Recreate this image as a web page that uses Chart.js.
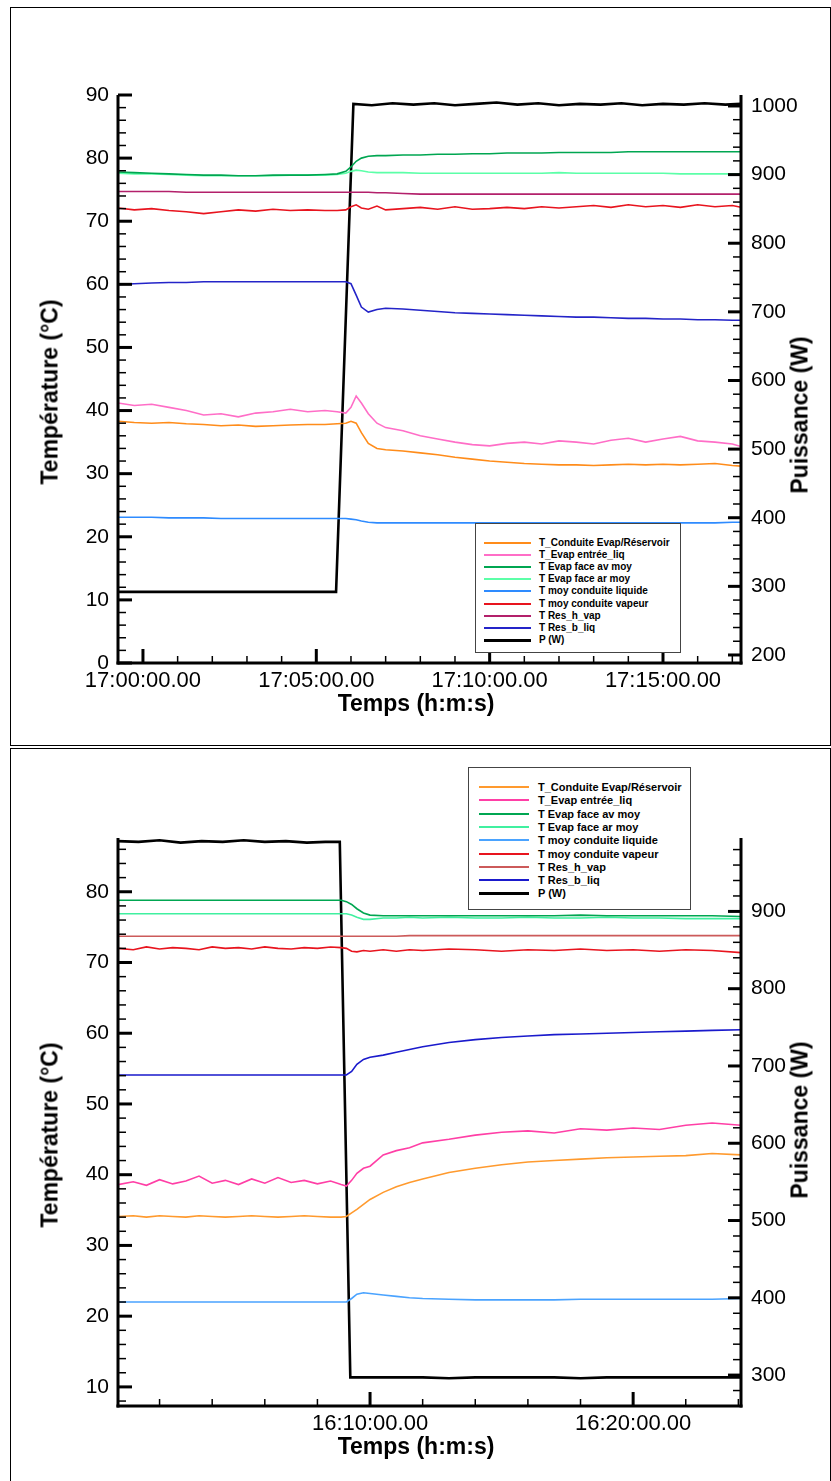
<!DOCTYPE html>
<html lang="fr">
<head>
<meta charset="utf-8" />
<title>Température et puissance</title>
<script src="https://cdn.jsdelivr.net/npm/chart.js@4.4.1/dist/chart.umd.min.js"></script>
<style>
  body { margin: 0; background: #fff; }
  #page { position: relative; width: 831px; height: 1481px; overflow: hidden; font-family: "Liberation Sans", Arial, sans-serif; }
  .panel { position: absolute; border: 1px solid #000; box-sizing: border-box; }
  canvas { position: absolute; left: 0; }
  .title { position: absolute; font: bold 23px "Liberation Sans", Arial, sans-serif; white-space: nowrap; transform: translate(-50%, -50%); }
  .rot { transform: translate(-50%, -50%) rotate(-90deg); }
  .legend { position: absolute; border: 1px solid #444; background: #fff; box-sizing: border-box; }
  .legend .row { position: absolute; left: 0; height: 12px; font: bold 10px "Liberation Sans", Arial, sans-serif; line-height: 12px; white-space: nowrap; }
  .legend .swatch { position: absolute; top: 5px; height: 2px; }
  .legend .lab { position: absolute; top: 0; }
</style>
</head>
<body>
<div id="page">
  <div class="panel" style="left:10px; top:7px; width:821px; height:739px;"></div>
  <div class="panel" style="left:10px; top:748px; width:821px; height:740px;"></div>

  <canvas id="chart1" width="831" height="745" style="top:0px;"></canvas>
  <canvas id="chart2" width="831" height="733" style="top:748px;"></canvas>

  <div class="title rot" style="left:50px; top:392px;">Température (°C)</div>
  <div class="title rot" style="left:800px; top:415px;">Puissance (W)</div>
  <div class="title" style="left:416px; top:703px;">Temps (h:m:s)</div>

  <div class="title rot" style="left:50px; top:1135px;">Température (°C)</div>
  <div class="title rot" style="left:800px; top:1120px;">Puissance (W)</div>
  <div class="title" style="left:416px; top:1446px;">Temps (h:m:s)</div>

  <div class="legend" id="legend1" style="left:475px; top:523px; width:206px; height:130px;"></div>
  <div class="legend" id="legend2" style="left:468px; top:767px; width:223px; height:143px;"></div>
</div>

<script>
// series names (same in both charts)
var seriesNames = ["T_Conduite Evap/Réservoir", "T_Evap entrée_liq", "T Evap face av moy", "T Evap face ar moy",
                   "T moy conduite liquide", "T moy conduite vapeur", "T Res_h_vap", "T Res_b_liq", "P (W)"];

// ---------- chart 1 : step up, minutes after 17:00 ----------
var t1 = [-0.72, -0.25, 0.25, 0.75, 1.25, 1.75, 2.25, 2.75, 3.25, 3.75, 4.25, 4.75, 5.25, 5.6, 5.85, 6.0, 6.15, 6.3, 6.5, 6.75, 7.0,
          7.5, 8.0, 8.5, 9.0, 9.5, 10.0, 10.5, 11.0, 11.5, 12.0, 12.5, 13.0, 13.5, 14.0, 14.5, 15.0, 15.5, 16.0, 16.5, 17.0, 17.25];
var condEvap1 = [38.3, 38.1, 38.0, 38.1, 37.9, 37.8, 37.6, 37.7, 37.5, 37.6, 37.7, 37.8, 37.8, 37.9, 38.0, 38.3, 38.0, 36.5, 34.8, 34.0, 33.8,
                 33.6, 33.3, 33.0, 32.6, 32.3, 32.0, 31.8, 31.6, 31.5, 31.4, 31.4, 31.3, 31.4, 31.5, 31.4, 31.5, 31.4, 31.5, 31.6, 31.3, 31.2];
var entreeLiq1 = [41.2, 40.8, 41.0, 40.5, 40.0, 39.3, 39.5, 39.0, 39.6, 39.8, 40.2, 39.8, 40.0, 39.8, 39.6, 40.5, 42.3, 41.2, 39.5, 38.0, 37.3,
                  36.8, 36.0, 35.5, 35.0, 34.6, 34.4, 34.8, 35.0, 34.7, 35.2, 35.0, 34.7, 35.3, 35.6, 35.0, 35.5, 35.9, 35.2, 35.0, 34.7, 34.3];
var faceAv1 = [77.8, 77.7, 77.6, 77.5, 77.4, 77.3, 77.3, 77.2, 77.2, 77.3, 77.3, 77.3, 77.4, 77.5, 77.9, 78.6, 79.5, 80.0, 80.3, 80.4, 80.4,
               80.5, 80.5, 80.6, 80.6, 80.7, 80.7, 80.8, 80.8, 80.8, 80.9, 80.9, 80.9, 80.9, 81.0, 81.0, 81.0, 81.0, 81.0, 81.0, 81.0, 81.0];
var faceAr1 = [77.6, 77.5, 77.5, 77.4, 77.3, 77.2, 77.2, 77.2, 77.2, 77.2, 77.3, 77.3, 77.3, 77.4, 77.6, 77.9, 78.1, 78.0, 77.8, 77.7, 77.7,
               77.7, 77.6, 77.6, 77.6, 77.6, 77.6, 77.6, 77.6, 77.6, 77.7, 77.6, 77.6, 77.6, 77.6, 77.6, 77.6, 77.5, 77.5, 77.5, 77.5, 77.5];
var condLiq1 = [23.1, 23.1, 23.1, 23.0, 23.0, 23.0, 22.9, 22.9, 22.9, 22.9, 22.9, 22.9, 22.9, 22.9, 22.9, 22.8, 22.7, 22.5, 22.3, 22.2, 22.2,
                22.2, 22.2, 22.2, 22.2, 22.2, 22.2, 22.2, 22.2, 22.2, 22.2, 22.2, 22.2, 22.2, 22.2, 22.2, 22.2, 22.2, 22.2, 22.2, 22.3, 22.3];
var condVap1 = [72.1, 71.8, 72.0, 71.7, 71.5, 71.2, 71.5, 71.8, 71.6, 71.9, 71.7, 71.8, 71.7, 71.7, 71.8, 72.3, 72.6, 72.1, 71.9, 72.4, 71.8,
                72.0, 72.2, 71.9, 72.3, 71.9, 72.0, 72.2, 72.0, 72.3, 72.1, 72.3, 72.5, 72.2, 72.6, 72.3, 72.5, 72.2, 72.6, 72.3, 72.5, 72.2];
var resHVap1 = [74.7, 74.7, 74.7, 74.7, 74.6, 74.6, 74.6, 74.6, 74.6, 74.6, 74.6, 74.6, 74.6, 74.6, 74.6, 74.6, 74.6, 74.6, 74.6, 74.5, 74.5,
                74.4, 74.3, 74.3, 74.3, 74.3, 74.3, 74.3, 74.3, 74.3, 74.3, 74.3, 74.3, 74.3, 74.3, 74.3, 74.3, 74.3, 74.3, 74.3, 74.3, 74.3];
var resBLiq1 = [60.0, 60.1, 60.2, 60.3, 60.3, 60.4, 60.4, 60.4, 60.4, 60.4, 60.4, 60.4, 60.4, 60.4, 60.4, 60.1, 58.3, 56.4, 55.6, 56.0, 56.2,
                56.1, 55.9, 55.7, 55.5, 55.4, 55.3, 55.2, 55.1, 55.0, 54.9, 54.8, 54.8, 54.7, 54.6, 54.6, 54.5, 54.5, 54.4, 54.4, 54.3, 54.3];
var pTime1 = [-0.72, 0.5, 1.5, 2.5, 3.5, 4.5, 5.57, 6.07, 6.6, 7.2, 7.8, 8.4, 9.0, 9.6, 10.2, 10.8, 11.4, 12.0, 12.6, 13.2, 13.8,
              14.4, 15.0, 15.6, 16.2, 16.8, 17.25];
var power1 = [292, 292, 292, 292, 292, 292, 292, 1003, 1001, 1004, 1002, 1004, 1001, 1003, 1005, 1002, 1004, 1001, 1003, 1002, 1004,
              1001, 1003, 1002, 1004, 1002, 1003];
var xTicks1 = [0, 5, 10, 15];
var tempTicks1 = [0, 10, 20, 30, 40, 50, 60, 70, 80, 90];
var powerTicks1 = [200, 300, 400, 500, 600, 700, 800, 900, 1000];

// ---------- chart 2 : step down, minutes after 16:00 ----------
var t2 = [0.42, 1.0, 1.5, 2.0, 2.5, 3.0, 3.5, 4.0, 4.5, 5.0, 5.5, 6.0, 6.5, 7.0, 7.5, 8.0, 8.5, 8.9, 9.1, 9.3, 9.5, 9.75, 10.0,
          10.5, 11.0, 11.5, 12.0, 13.0, 14.0, 15.0, 16.0, 17.0, 18.0, 19.0, 20.0, 21.0, 22.0, 23.0, 24.1];
var condEvap2 = [34.1, 34.2, 34.0, 34.2, 34.1, 34.0, 34.2, 34.1, 34.0, 34.1, 34.2, 34.1, 34.0, 34.1, 34.2, 34.1, 34.0, 34.0, 34.1, 34.6, 35.1, 35.8, 36.5,
                 37.5, 38.3, 38.9, 39.4, 40.3, 40.9, 41.4, 41.8, 42.0, 42.2, 42.4, 42.5, 42.6, 42.7, 43.0, 42.8];
var entreeLiq2 = [38.6, 39.0, 38.5, 39.3, 38.7, 39.1, 39.8, 38.8, 39.2, 38.6, 39.4, 38.8, 39.6, 38.9, 39.2, 38.7, 39.1, 38.6, 38.4, 39.2, 40.2, 40.9, 41.2,
                  42.8, 43.4, 43.8, 44.5, 45.0, 45.6, 46.0, 46.2, 45.9, 46.5, 46.3, 46.6, 46.4, 47.0, 47.3, 47.0];
var faceAv2 = [78.8, 78.8, 78.8, 78.8, 78.8, 78.8, 78.8, 78.8, 78.8, 78.8, 78.8, 78.8, 78.8, 78.8, 78.8, 78.8, 78.8, 78.8, 78.6, 78.2, 77.6, 77.0, 76.7,
               76.6, 76.6, 76.6, 76.6, 76.6, 76.6, 76.6, 76.6, 76.6, 76.7, 76.6, 76.6, 76.6, 76.6, 76.6, 76.5];
var faceAr2 = [76.9, 76.9, 76.9, 76.9, 76.9, 76.9, 76.9, 76.9, 76.9, 76.9, 76.9, 76.9, 76.9, 76.9, 76.9, 76.9, 76.9, 76.9, 76.9, 76.7, 76.4, 76.1, 76.1,
               76.3, 76.3, 76.4, 76.3, 76.4, 76.3, 76.3, 76.4, 76.3, 76.3, 76.4, 76.3, 76.3, 76.2, 76.2, 76.2];
var condLiq2 = [22.0, 22.0, 22.0, 22.0, 22.0, 22.0, 22.0, 22.0, 22.0, 22.0, 22.0, 22.0, 22.0, 22.0, 22.0, 22.0, 22.0, 22.0, 22.0, 22.5, 23.1, 23.3, 23.2,
                23.0, 22.8, 22.6, 22.5, 22.4, 22.3, 22.3, 22.3, 22.3, 22.4, 22.4, 22.4, 22.4, 22.4, 22.4, 22.5];
var condVap2 = [72.0, 71.8, 72.2, 71.9, 72.1, 72.0, 71.8, 72.2, 72.0, 72.1, 71.9, 72.2, 72.0, 71.9, 72.1, 72.0, 72.2, 72.1, 72.0, 71.6, 71.5, 71.7, 71.6,
                71.8, 71.6, 71.8, 71.7, 71.9, 71.8, 71.6, 71.8, 71.7, 71.9, 71.7, 71.8, 71.6, 71.8, 71.7, 71.4];
var resHVap2 = [73.7, 73.7, 73.7, 73.7, 73.7, 73.7, 73.7, 73.7, 73.7, 73.7, 73.7, 73.7, 73.7, 73.7, 73.7, 73.7, 73.7, 73.7, 73.7, 73.7, 73.7, 73.7, 73.7,
                73.7, 73.7, 73.8, 73.8, 73.8, 73.8, 73.8, 73.8, 73.8, 73.8, 73.8, 73.8, 73.8, 73.8, 73.8, 73.8];
var resBLiq2 = [54.1, 54.1, 54.1, 54.1, 54.1, 54.1, 54.1, 54.1, 54.1, 54.1, 54.1, 54.1, 54.1, 54.1, 54.1, 54.1, 54.1, 54.1, 54.1, 54.6, 55.6, 56.3, 56.6,
                56.9, 57.3, 57.7, 58.1, 58.7, 59.1, 59.4, 59.6, 59.8, 59.9, 60.0, 60.1, 60.2, 60.3, 60.4, 60.5];
var pTime2 = [0.42, 1.2, 2.0, 2.8, 3.6, 4.4, 5.2, 6.0, 6.8, 7.6, 8.3, 8.85, 9.25, 10, 11, 12, 13, 14, 15, 16, 17, 18, 19, 20, 21, 22, 23, 24.1];
var power2 = [991, 990, 992, 989, 991, 990, 992, 990, 991, 989, 990, 990, 297, 297, 297, 297, 296, 297, 297, 297, 297, 296, 297, 297, 297, 297, 297, 297];
var xTicks2 = [10, 20];
var tempTicks2 = [10, 20, 30, 40, 50, 60, 70, 80];
var powerTicks2 = [300, 400, 500, 600, 700, 800, 900];

var colors1 = ["#ff8c1a", "#ff6ec7", "#00a651", "#5cffa8", "#2e8bff", "#e8141e", "#b3206b", "#2424c8", "#000000"];
var colors2 = ["#ff9a2e", "#ff3fa6", "#00a651", "#40f0a0", "#4aa3ff", "#e8141e", "#cc5a5a", "#1a1acc", "#000000"];

function pts(xs, ys) {
  return ys.map(function (y, i) { return {x: xs[i], y: y}; });
}
function pad2(n) { return (n < 10 ? "0" : "") + n; }
function clock(baseHour, minutes) {
  var s = Math.round(minutes * 60) + baseHour * 3600;
  var h = Math.floor(s / 3600), m = Math.floor((s % 3600) / 60), sec = s % 60;
  return h + ":" + pad2(m) + ":" + pad2(sec) + ".00";
}

// Tecplot style frame: thick axis lines, ticks pointing into the plot
var tecAxes = {
  id: "tecAxes",
  afterDatasetsDraw: function (chart, args, o) {
    var ctx = chart.ctx, a = chart.chartArea, yl = chart.scales.y, yr = chart.scales.yP, xs = chart.scales.x;
    ctx.save();
    ctx.strokeStyle = "#000";
    function seg(x1, y1, x2, y2, w) {
      ctx.lineWidth = w; ctx.beginPath(); ctx.moveTo(x1, y1); ctx.lineTo(x2, y2); ctx.stroke();
    }
    function each(scale, minor, major, fn) {
      var k0 = Math.ceil(scale.min / minor - 1e-6), k1 = Math.floor(scale.max / minor + 1e-6);
      for (var k = k0; k <= k1; k++) {
        var v = k * minor;
        var isMajor = Math.abs(v / major - Math.round(v / major)) < 1e-6;
        fn(scale.getPixelForValue(v), isMajor);
      }
    }
    each(yl, o.leftMinor, o.leftMajor, function (p, M) { seg(a.left, p, a.left + (M ? 14 : 8), p, M ? 3 : 1.5); });
    each(yr, o.rightMinor, o.rightMajor, function (p, M) { seg(a.right, p, a.right - (M ? 13 : 8), p, M ? 3 : 1.5); });
    each(xs, o.xMinor, o.xMajor, function (p, M) { seg(p, a.bottom, p, a.bottom - (M ? 14 : 7), M ? 3 : 1.5); });
    seg(a.left, a.top, a.left, a.bottom + 1.5, 3);
    seg(a.right, a.top, a.right, a.bottom + 1.5, 3);
    seg(a.left - 1.5, a.bottom, a.right + 1.5, a.bottom, 3);
    ctx.restore();
  }
};

var tickFont = {family: "'Liberation Sans', Arial, sans-serif", size: 21};
var timeFont = {family: "'Liberation Sans', Arial, sans-serif", size: 22};
function plain(v) { return String(v); }

function makeChart(id, cfg) {
  var datasets = [];
  var temps = cfg.temps;
  for (var i = 0; i < temps.length; i++) {
    datasets.push({label: seriesNames[i], data: pts(cfg.t, temps[i]), yAxisID: "y",
                   borderColor: cfg.colors[i], borderWidth: 1.6});
  }
  datasets.push({label: seriesNames[8], data: pts(cfg.pTime, cfg.power), yAxisID: "yP",
                 borderColor: "#000", borderWidth: 2.6});
  return new Chart(document.getElementById(id).getContext("2d"), {
    type: "line",
    data: {datasets: datasets},
    plugins: [tecAxes],
    options: {
      responsive: false,
      animation: false,
      layout: {padding: {top: cfg.top, left: 0, right: 0, bottom: 0}},
      elements: {point: {radius: 0}, line: {tension: 0}},
      plugins: {legend: {display: false}, tooltip: {enabled: false}, tecAxes: cfg.axes},
      scales: {
        x: {
          type: "linear", min: cfg.xMin, max: cfg.xMax,
          grid: {display: false, drawTicks: false}, border: {display: false},
          afterFit: function (s) { s.height = cfg.xHeight; },
          afterBuildTicks: function (s) { s.ticks = cfg.xTicks.map(function (v) { return {value: v}; }); },
          ticks: {font: timeFont, color: "#000", padding: 5, maxRotation: 0, autoSkip: false,
                  callback: function (v) { return clock(cfg.baseHour, v); }}
        },
        y: {
          position: "left", min: cfg.yMin, max: cfg.yMax,
          grid: {display: false, drawTicks: false}, border: {display: false},
          afterFit: function (s) { s.width = 118; },
          afterBuildTicks: function (s) { s.ticks = cfg.tempTicks.map(function (v) { return {value: v}; }); },
          ticks: {font: tickFont, color: "#000", padding: 9, callback: plain}
        },
        yP: {
          position: "right", min: cfg.pMin, max: cfg.pMax,
          grid: {display: false, drawTicks: false}, border: {display: false},
          afterFit: function (s) { s.width = 90; },
          afterBuildTicks: function (s) { s.ticks = cfg.powerTicks.map(function (v) { return {value: v}; }); },
          ticks: {font: tickFont, color: "#000", padding: 10, callback: plain}
        }
      }
    }
  });
}

makeChart("chart1", {
  t: t1, temps: [condEvap1, entreeLiq1, faceAv1, faceAr1, condLiq1, condVap1, resHVap1, resBLiq1],
  pTime: pTime1, power: power1, colors: colors1, baseHour: 17,
  xMin: -0.72, xMax: 17.25, yMin: 0, yMax: 90, pMin: 188.3, pMax: 1016,
  xTicks: xTicks1, tempTicks: tempTicks1, powerTicks: powerTicks1,
  top: 95, xHeight: 82,
  axes: {leftMinor: 2, leftMajor: 10, rightMinor: 20, rightMajor: 100, xMinor: 1, xMajor: 5}
});

makeChart("chart2", {
  t: t2, temps: [condEvap2, entreeLiq2, faceAv2, faceAr2, condLiq2, condVap2, resHVap2, resBLiq2],
  pTime: pTime2, power: power2, colors: colors2, baseHour: 16,
  xMin: 0.42, xMax: 24.1, yMin: 7.3, yMax: 87.6, pMin: 260, pMax: 995,
  xTicks: xTicks2, tempTicks: tempTicks2, powerTicks: powerTicks2,
  top: 90, xHeight: 75,
  axes: {leftMinor: 2, leftMajor: 10, rightMinor: 20, rightMajor: 100, xMinor: 2, xMajor: 10}
});

// legends in the plot, as in the original
function buildLegend(id, colors, rowTop, rowStep, lineLeft, lineWidth, textLeft, fontSize) {
  var box = document.getElementById(id);
  seriesNames.forEach(function (name, i) {
    var row = document.createElement("div");
    row.className = "row";
    row.style.top = (rowTop + i * rowStep - 6) + "px";
    row.style.fontSize = fontSize + "px";
    var sw = document.createElement("span");
    sw.className = "swatch";
    sw.style.left = lineLeft + "px";
    sw.style.width = lineWidth + "px";
    sw.style.background = colors[i];
    if (i === 8) { sw.style.height = "3px"; }
    var lab = document.createElement("span");
    lab.className = "lab";
    lab.style.left = textLeft + "px";
    lab.textContent = name;
    row.appendChild(sw);
    row.appendChild(lab);
    box.appendChild(row);
  });
}
buildLegend("legend1", colors1, 19, 12.1, 8, 47, 63, 10);
buildLegend("legend2", colors2, 19, 13.3, 10, 50, 69, 11);
</script>
</body>
</html>
